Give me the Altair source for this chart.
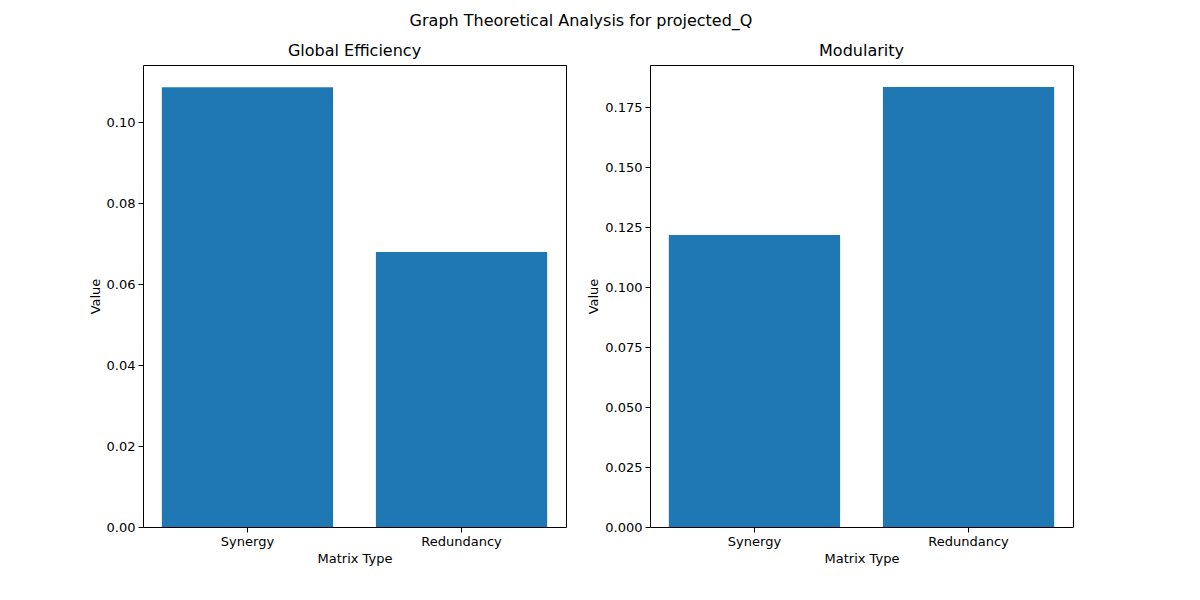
import altair as alt
import pandas as pd

matrix_types = ['Synergy', 'Redundancy']
global_eff = [0.1086, 0.0679]
modularity = [0.1217, 0.1833]

FONT = 'DejaVu Sans'
BLUE = '#1f77b4'


def panel(values, title, ymax, ticks, fmt):
    df = pd.DataFrame({'Matrix Type': matrix_types, 'Value': values})
    return alt.Chart(df).mark_bar(color=BLUE).encode(
        x=alt.X('Matrix Type:N', sort=matrix_types,
                scale=alt.Scale(paddingInner=0.2, paddingOuter=0.088),
                axis=alt.Axis(labelAngle=0, title='Matrix Type')),
        y=alt.Y('Value:Q', scale=alt.Scale(domain=[0, ymax], nice=False, zero=True),
                axis=alt.Axis(values=ticks, format=fmt, title='Value'))
    ).properties(width=423, height=462,
                 title=alt.TitleParams(title, fontSize=16, font=FONT, fontWeight='normal', offset=6))


left = panel(global_eff, 'Global Efficiency', 0.1141,
             [0, 0.02, 0.04, 0.06, 0.08, 0.10], '.2f')
right = panel(modularity, 'Modularity', 0.1925,
              [0, 0.025, 0.05, 0.075, 0.1, 0.125, 0.15, 0.175], '.3f')

chart = alt.hconcat(left, right, spacing=84, bounds='flush').properties(
    title=alt.TitleParams('Graph Theoretical Analysis for projected_Q', fontSize=16,
                          font=FONT, fontWeight='normal', anchor='middle', offset=14),
    padding={'left': 80, 'top': 4, 'right': 10, 'bottom': 10}
).configure_view(stroke='black', strokeWidth=1).configure_axis(
    grid=False, domain=False, labelFont=FONT, titleFont=FONT,
    labelFontSize=13, titleFontSize=13, titleFontWeight='normal',
    labelColor='black', titleColor='black', tickColor='black', tickSize=5,
    labelPadding=3
)

chart.save('out.html', embed_options={'renderer': 'svg', 'actions': False})
